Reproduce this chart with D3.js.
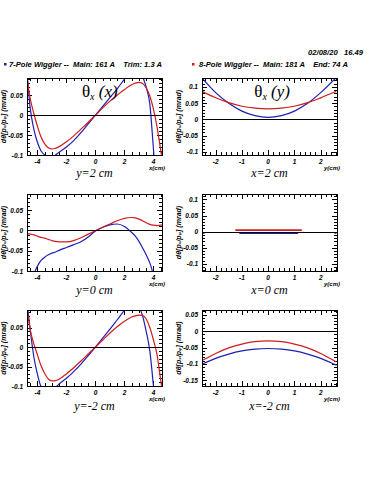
<!DOCTYPE html>
<html>
<head>
<meta charset="utf-8">
<script src="https://cdn.jsdelivr.net/npm/d3@7"></script>
<style>
  body { margin: 0; background: #fff; }
  svg { display: block; }
  .tick-label { font-family: "Liberation Sans", sans-serif; font-size: 6.5px; font-weight: bold; font-style: italic; white-space: pre; }
  .header { font-family: "Liberation Sans", sans-serif; font-size: 7.6px; font-weight: bold; font-style: italic; white-space: pre; }
  .small { font-family: "Liberation Sans", sans-serif; font-size: 6px; font-weight: bold; font-style: italic; }
</style>
</head>
<body>
<svg id="chart"></svg>
<script>
const blueColor = "#1f1fb4";
const redColor = "#d01c1c";

// horizontal sample points (cm)
const xGrid = [-4.7, -4.5, -4.25, -4, -3.75, -3.5, -3.25, -3, -2.75, -2.5, -2, -1.5, -1, -0.5, 0,
  0.5, 1, 1.5, 2, 2.5, 2.75, 3, 3.25, 3.5, 3.75, 4, 4.25, 4.5, 4.6];
const yGrid = [-2.5, -2, -1.5, -1, -0.5, 0, 0.5, 1, 1.5, 2, 2.6];
const yGridMid = [-2.5, -2.42, -1.25, -1.1, 0, 1.14, 1.28, 2.52, 2.6];

// theta_x(x) at y = 2, 0, -2 cm
const blueY2 = [0.098, 0.018, -0.035, -0.068, -0.09, -0.1, -0.106, -0.107, -0.1, -0.093, -0.08, -0.064, -0.044, -0.022, 0,
  0.022, 0.044, 0.066, 0.09, 0.112, 0.118, 0.115, 0.097, 0.07, 0.028, -0.085, -0.2, -0.35, -0.4];
const redY2 = [0.088, 0.042, 0.004, -0.028, -0.055, -0.072, -0.082, -0.085, -0.083, -0.079, -0.067, -0.052, -0.035, -0.018, 0,
  0.018, 0.035, 0.05, 0.064, 0.076, 0.08, 0.082, 0.079, 0.068, 0.048, 0.015, -0.03, -0.088, -0.11];
const blueY0 = [-0.16, -0.135, -0.108, -0.088, -0.074, -0.066, -0.06, -0.056, -0.053, -0.049, -0.042, -0.035, -0.028, -0.016, -0.001,
  0.008, 0.014, 0.016, 0.01, -0.005, -0.014, -0.027, -0.043, -0.06, -0.08, -0.11, -0.15, -0.2, -0.22];
const redY0 = [-0.008, -0.009, -0.011, -0.014, -0.017, -0.019, -0.022, -0.025, -0.027, -0.028, -0.028, -0.025, -0.018, -0.009, -0.001,
  0.008, 0.016, 0.024, 0.03, 0.032, 0.031, 0.028, 0.024, 0.019, 0.015, 0.013, 0.012, 0.013, 0.013];
const blueYm2 = [0.11, 0.045, -0.025, -0.07, -0.102, -0.115, -0.122, -0.118, -0.104, -0.095, -0.08, -0.063, -0.044, -0.022, 0,
  0.023, 0.046, 0.07, 0.094, 0.112, 0.115, 0.104, 0.08, 0.04, -0.01, -0.1, -0.2, -0.32, -0.37];
const redYm2 = [0.095, 0.045, 0.008, -0.02, -0.048, -0.068, -0.082, -0.087, -0.086, -0.082, -0.069, -0.053, -0.036, -0.018, 0,
  0.018, 0.036, 0.052, 0.066, 0.077, 0.08, 0.082, 0.081, 0.072, 0.05, 0.018, -0.02, -0.085, -0.11];

// theta_x(y) at x = 2, 0, -2 cm
const blueX2 = [0.125, 0.082, 0.049, 0.025, 0.011, 0.006, 0.011, 0.025, 0.049, 0.082, 0.129];
const redX2 = [0.085, 0.066, 0.051, 0.04, 0.034, 0.032, 0.034, 0.04, 0.051, 0.066, 0.086];
const blueX0 = [-0.004, -0.004, null, -0.005, -0.005, -0.005, null, -0.004, -0.004];
const redX0 = [null, null, 0.005, 0.005, 0.005, 0.005, 0.005, null, null];
const blueXm2 = [-0.1, -0.083, -0.07, -0.0605, -0.055, -0.053, -0.055, -0.0605, -0.07, -0.083, -0.104];
const redXm2 = [-0.089, -0.068, -0.051, -0.0395, -0.032, -0.03, -0.032, -0.0395, -0.051, -0.068, -0.094];

const xTicksLeft = [-4, -2, 0, 2, 4];
const xTicksRight = [-2, -1, 0, 1, 2];
const yTicksLeft = [-0.1, -0.05, 0, 0.05];
const yTicksRight = [-0.1, -0.05, 0, 0.05, 0.1];
const yTicksRightLow = [-0.15, -0.1, -0.05, 0, 0.05];

const dateText = "02/08/20   16.49";
const legendBlue = "7-Pole Wiggler --  Main: 161 A    Trim: 1.3 A";
const legendRed = "8-Pole Wiggler --  Main: 181 A    End: 74 A";
const yAxisTitle = "dθ[p\u2093/p\u1d69] (mrad)";

const width = 375;
const height = 500;

const svg = d3.select("#chart").attr("width", width).attr("height", height);

const cols = [
  { range: [27, 162], domain: [-4.72, 4.59], ticks: xTicksLeft, minor: 0.5, label: "x(cm)", titleAt: 0.3 },
  { range: [202, 337], domain: [-2.52, 2.62], ticks: xTicksRight, minor: 0.2, label: "y(cm)", titleAt: 0.15 }
];
const rows = [[78, 155], [194, 271], [310, 386]];

const panels = [
  { col: 0, row: 0, xs: xGrid, blue: blueY2, red: redY2, yDomain: [-0.1, 0.093], yTicks: yTicksLeft, caption: "y=2 cm", title: "x" },
  { col: 1, row: 0, xs: yGrid, blue: blueX2, red: redX2, yDomain: [-0.11, 0.127], yTicks: yTicksRight, caption: "x=2 cm", title: "y" },
  { col: 0, row: 1, xs: xGrid, blue: blueY0, red: redY0, yDomain: [-0.1, 0.09], yTicks: yTicksLeft, caption: "y=0 cm" },
  { col: 1, row: 1, xs: yGridMid, blue: blueX0, red: redX0, yDomain: [-0.122, 0.117], yTicks: yTicksRight, caption: "x=0 cm" },
  { col: 0, row: 2, xs: xGrid, blue: blueYm2, red: redYm2, yDomain: [-0.1, 0.095], yTicks: yTicksLeft, caption: "y=-2 cm" },
  { col: 1, row: 2, xs: yGrid, blue: blueXm2, red: redXm2, yDomain: [-0.167, 0.064], yTicks: yTicksRightLow, caption: "x=-2 cm" }
];

// header
svg.append("text")
  .attr("class", "header")
  .attr("x", 363)
  .attr("y", 55)
  .attr("text-anchor", "end")
  .text(dateText);

[[4, 9, blueColor, legendBlue], [192, 199, redColor, legendRed]].forEach(([mx, tx, color, txt]) => {
  svg.append("rect").attr("x", mx).attr("y", 63).attr("width", 2.5).attr("height", 2.5).attr("fill", color);
  svg.append("text").attr("class", "header").attr("x", tx).attr("y", 67).text(txt);
});

const fmt = v => (v === 0 ? "0" : String(+v.toFixed(2)));

panels.forEach((p, i) => {
  const col = cols[p.col];
  const [top, bottom] = rows[p.row];
  const xScale = d3.scaleLinear().domain(col.domain).range(col.range);
  const yScale = d3.scaleLinear().domain(p.yDomain).range([bottom, top]);
  const g = svg.append("g");

  g.append("clipPath")
    .attr("id", "clip" + i)
    .append("rect")
    .attr("x", col.range[0])
    .attr("y", top)
    .attr("width", col.range[1] - col.range[0])
    .attr("height", bottom - top);

  // minor and major ticks, inward on all four sides
  const xMinor = d3.range(Math.ceil(col.domain[0] / col.minor) * col.minor, col.domain[1], col.minor);
  const yMinor = d3.range(Math.ceil(p.yDomain[0] / 0.01) * 0.01, p.yDomain[1], 0.01);
  const isMajorX = v => col.ticks.some(t => Math.abs(t - v) < 1e-6);
  const isMajorY = v => p.yTicks.some(t => Math.abs(t - v) < 1e-6);

  const tickPath = d3.path();
  xMinor.forEach(v => {
    const len = isMajorX(v) ? 5 : 3;
    const x = Math.round(xScale(v)) + 0.5;
    tickPath.moveTo(x, bottom); tickPath.lineTo(x, bottom - len);
    tickPath.moveTo(x, top); tickPath.lineTo(x, top + len);
  });
  yMinor.forEach(v => {
    const len = isMajorY(v) ? 5 : 3;
    const y = Math.round(yScale(v)) + 0.5;
    tickPath.moveTo(col.range[0], y); tickPath.lineTo(col.range[0] + len, y);
    tickPath.moveTo(col.range[1], y); tickPath.lineTo(col.range[1] - len, y);
  });
  g.append("path").attr("d", tickPath.toString()).attr("stroke", "#000").attr("stroke-width", 1).attr("fill", "none");

  // curves
  const points = series => p.xs.map((x, k) => ({ x, y: series[k] }));
  const line = d3.line()
    .defined(d => d.y !== null)
    .x(d => xScale(d.x))
    .y(d => yScale(d.y))
    .curve(d3.curveMonotoneX);

  [[p.blue, blueColor], [p.red, redColor]].forEach(([series, color]) => {
    g.append("path")
      .datum(points(series))
      .attr("clip-path", `url(#clip${i})`)
      .attr("fill", "none")
      .attr("stroke", color)
      .attr("stroke-width", p.col === 1 && p.row === 1 ? 1.6 : 1.2)
      .attr("d", line);
  });

  // zero line
  g.append("line")
    .attr("x1", col.range[0])
    .attr("x2", col.range[1])
    .attr("y1", Math.round(yScale(0)) + 0.5)
    .attr("y2", Math.round(yScale(0)) + 0.5)
    .attr("stroke", "#000")
    .attr("stroke-width", 1);

  // frame
  g.append("rect")
    .attr("x", col.range[0] + 0.5)
    .attr("y", top + 0.5)
    .attr("width", col.range[1] - col.range[0])
    .attr("height", bottom - top)
    .attr("fill", "none")
    .attr("stroke", "#000")
    .attr("stroke-width", 1);

  // tick labels
  g.selectAll(".xl")
    .data(col.ticks)
    .enter()
    .append("text")
    .attr("class", "tick-label")
    .attr("x", d => xScale(d))
    .attr("y", bottom + 9)
    .attr("text-anchor", "middle")
    .text(d => d);

  g.selectAll(".yl")
    .data(p.yTicks)
    .enter()
    .append("text")
    .attr("class", "tick-label")
    .attr("x", col.range[0] - 4)
    .attr("y", d => yScale(d) + 2.5)
    .attr("text-anchor", "end")
    .text(fmt);

  g.append("text")
    .attr("class", "small")
    .attr("x", col.range[1] - 5)
    .attr("y", bottom + 15)
    .attr("text-anchor", "middle")
    .text(col.label);

  g.append("text")
    .attr("class", "small")
    .style("font-size", "7px")
    .attr("transform", `translate(${col.range[0] - 21},${(top + bottom) / 2}) rotate(-90)`)
    .attr("text-anchor", "middle")
    .text(yAxisTitle);

  // caption under the panel
  g.append("text")
    .attr("x", (col.range[0] + col.range[1]) / 2)
    .attr("y", bottom + 22 + p.row)
    .attr("text-anchor", "middle")
    .style("font-family", "'Liberation Serif', serif")
    .style("font-style", "italic")
    .style("font-size", "12px")
    .text(p.caption);

  // panel title
  if (p.title) {
    const t = g.append("text")
      .attr("x", xScale(col.titleAt))
      .attr("y", top + 19)
      .attr("text-anchor", "middle")
      .style("font-family", "'Liberation Serif', serif")
      .style("font-size", "17px");
    t.append("tspan").text("θ");
    t.append("tspan").attr("dy", 3).style("font-size", "10px").style("font-style", "italic").text("x");
    t.append("tspan").attr("dy", -3).style("font-style", "italic").text(" (" + p.title + ")");
  }
});
</script>
</body>
</html>
